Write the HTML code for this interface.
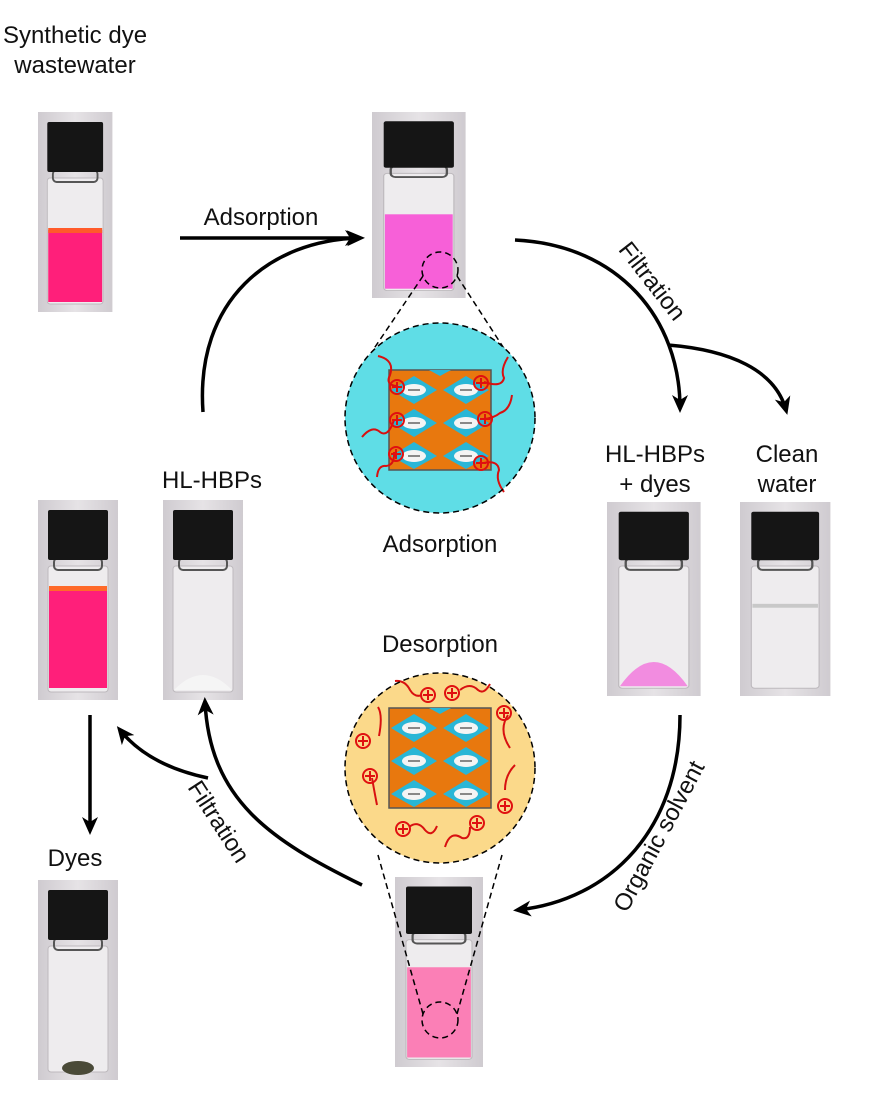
<!DOCTYPE html>
<html><head><style>
body{margin:0;background:#fff}
svg{display:block}
text{font-family:"Liberation Sans",Arial,sans-serif;fill:#111}
</style></head><body>
<svg width="887" height="1116" viewBox="0 0 887 1116" xmlns="http://www.w3.org/2000/svg">
<defs>
<linearGradient id="bg" x1="0" x2="1"><stop offset="0" stop-color="#cfcbd0"/><stop offset="0.5" stop-color="#e6e3e6"/><stop offset="1" stop-color="#cfcbd0"/></linearGradient>
<g id="vial">
<rect x="0" y="0" width="80" height="200" fill="url(#bg)"/>
<rect x="10" y="66" width="60" height="126" rx="3" fill="#eeecee" stroke="#bdb9bd"/>
<rect x="16" y="58" width="48" height="12" rx="4" fill="none" stroke="#555" stroke-width="2"/>
<rect x="10" y="10" width="60" height="50" rx="2" fill="#151515"/>
</g>
<marker id="ah2" markerWidth="18" markerHeight="18" refX="13" refY="9" orient="auto" markerUnits="userSpaceOnUse" viewBox="0 0 18 18"><path d="M0,1 L18,9 L0,17 L5,9z" fill="#000"/></marker>
<g id="lattice">
<rect x="0" y="0" width="102" height="100" fill="#e8780e" stroke="#555" stroke-width="1.5"/>
<g fill="#29b6d6">
<path d="M2,20 L25,6 L48,20 L25,34z"/><path d="M54,20 L77,6 L100,20 L77,34z"/>
<path d="M2,53 L25,39 L48,53 L25,67z"/><path d="M54,53 L77,39 L100,53 L77,67z"/>
<path d="M2,86 L25,72 L48,86 L25,99z"/><path d="M54,86 L77,72 L100,86 L77,99z"/>
<path d="M40,0 L51,6 L62,0z"/>
</g>
<g fill="#f4f4f4"><ellipse cx="25" cy="20" rx="12" ry="6"/><ellipse cx="77" cy="20" rx="12" ry="6"/><ellipse cx="25" cy="53" rx="12" ry="6"/><ellipse cx="77" cy="53" rx="12" ry="6"/><ellipse cx="25" cy="86" rx="12" ry="6"/><ellipse cx="77" cy="86" rx="12" ry="6"/></g>
<g stroke="#888" stroke-width="2"><path d="M19,20h12M71,20h12M19,53h12M71,53h12M19,86h12M71,86h12"/></g>
</g>
<g id="plus"><circle r="7" fill="none" stroke="#e01010" stroke-width="2"/><path d="M-5,0h10M0,-5v10" stroke="#e01010" stroke-width="2"/></g>
</defs>

<g transform="translate(38,112) scale(0.93,1)"><use href="#vial"/><rect x="11" y="118" width="58" height="72" fill="#ff1f7a"/><rect x="11" y="116" width="58" height="5" fill="#ff5a2a"/></g>
<g transform="translate(372,112) scale(1.17,0.93)"><use href="#vial"/><rect x="11" y="110" width="58" height="80" fill="#f760d8"/></g>
<g transform="translate(38,500)"><use href="#vial"/><rect x="11" y="88" width="58" height="100" fill="#ff1f7a"/><rect x="11" y="86" width="58" height="5" fill="#ff6a2a"/></g>
<g transform="translate(163,500)"><use href="#vial"/><path d="M11,190 Q40,160 69,190z" fill="#f5f5f5"/></g>
<g transform="translate(607,502) scale(1.17,0.97)"><use href="#vial"/><path d="M11,190 Q40,140 69,190z" fill="#f28ce0"/></g>
<g transform="translate(740,502) scale(1.13,0.97)"><use href="#vial"/><rect x="11" y="105" width="58" height="4" fill="#c8c8c8"/></g>
<g transform="translate(38,880)"><use href="#vial"/><ellipse cx="40" cy="188" rx="16" ry="7" fill="#4a4a38"/></g>
<g transform="translate(395,877) scale(1.1,0.95)"><use href="#vial"/><rect x="11" y="95" width="58" height="95" fill="#fb7fb6"/></g>

<g fill="none" stroke="#000" stroke-width="1.5" stroke-dasharray="6,4">
<circle cx="440" cy="270" r="18"/>
<circle cx="440" cy="1020" r="18"/>
<path d="M423,276 L373,350 M457,276 L505,350"/>
<path d="M423,1014 L378,855 M457,1014 L502,855"/>
</g>
<circle cx="440" cy="418" r="95" fill="#5fdde6"/>
<use href="#lattice" transform="translate(389,370)"/>
<g fill="none" stroke="#d81010" stroke-width="2">
<path d="M378,356 Q395,360 390,375 Q385,385 397,386"/>
<path d="M362,437 Q372,425 380,432 Q388,438 394,420"/>
<path d="M377,477 Q378,465 386,466 Q395,465 394,452"/>
<path d="M508,357 Q500,370 504,378 Q502,388 484,382"/>
<path d="M512,395 Q510,410 500,413 Q494,418 484,419"/>
<path d="M504,492 Q495,480 499,470 Q498,460 484,463"/>
</g>
<use href="#plus" x="397" y="387"/><use href="#plus" x="397" y="420"/><use href="#plus" x="396" y="454"/>
<use href="#plus" x="481" y="383"/><use href="#plus" x="485" y="419"/><use href="#plus" x="481" y="463"/>
<circle cx="440" cy="418" r="95" fill="none" stroke="#000" stroke-width="1.5" stroke-dasharray="6,4"/>

<circle cx="440" cy="768" r="95" fill="#fbd98a"/>
<use href="#lattice" transform="translate(389,708)"/>
<g fill="none" stroke="#d81010" stroke-width="2">
<path d="M395,681 Q405,680 410,690 Q415,698 422,695"/>
<path d="M460,690 Q470,682 478,690 Q484,695 490,684"/>
<path d="M379,736 Q383,715 378,707"/>
<path d="M508,715 Q498,730 510,748"/>
<path d="M372,778 Q375,795 377,805"/>
<path d="M515,765 Q505,775 505,790"/>
<path d="M409,827 Q418,820 425,830 Q432,838 437,826"/>
<path d="M445,847 Q450,830 462,838 Q470,840 470,827"/>
</g>
<use href="#plus" x="428" y="695"/><use href="#plus" x="452" y="693"/><use href="#plus" x="504" y="713"/>
<use href="#plus" x="363" y="741"/><use href="#plus" x="370" y="776"/><use href="#plus" x="505" y="806"/>
<use href="#plus" x="403" y="829"/><use href="#plus" x="477" y="823"/>
<circle cx="440" cy="768" r="95" fill="none" stroke="#000" stroke-width="1.5" stroke-dasharray="6,4"/>

<g fill="none" stroke="#000" stroke-width="3.5">
<path d="M180,238 L358,238" marker-end="url(#ah2)"/>
<path d="M203,412 C195,300 270,240 360,238" marker-end="url(#ah2)"/>
<path d="M515,240 C620,245 680,320 680,408" marker-end="url(#ah2)"/>
<path d="M668,345 C730,350 775,370 786,410" marker-end="url(#ah2)"/>
<path d="M680,715 C680,830 610,900 518,910" marker-end="url(#ah2)"/>
<path d="M362,885 C270,840 210,800 205,702" marker-end="url(#ah2)"/>
<path d="M208,778 C170,770 140,755 120,730" marker-end="url(#ah2)"/>
<path d="M90,715 L90,830" marker-end="url(#ah2)"/>
</g>

<g font-size="24" text-anchor="middle">
<text x="75" y="43">Synthetic dye</text>
<text x="75" y="73">wastewater</text>
<text x="261" y="225">Adsorption</text>
<text x="440" y="552">Adsorption</text>
<text x="440" y="652">Desorption</text>
<text x="212" y="488">HL-HBPs</text>
<text x="655" y="462">HL-HBPs</text>
<text x="655" y="492">+ dyes</text>
<text x="787" y="462">Clean</text>
<text x="787" y="492">water</text>
<text x="75" y="866">Dyes</text>
<text transform="translate(646,286) rotate(52)">Filtration</text>
<text transform="translate(212,826) rotate(57)">Filtration</text>
<text transform="translate(666,840) rotate(-62)">Organic solvent</text>
</g>
</svg>
</body></html>
